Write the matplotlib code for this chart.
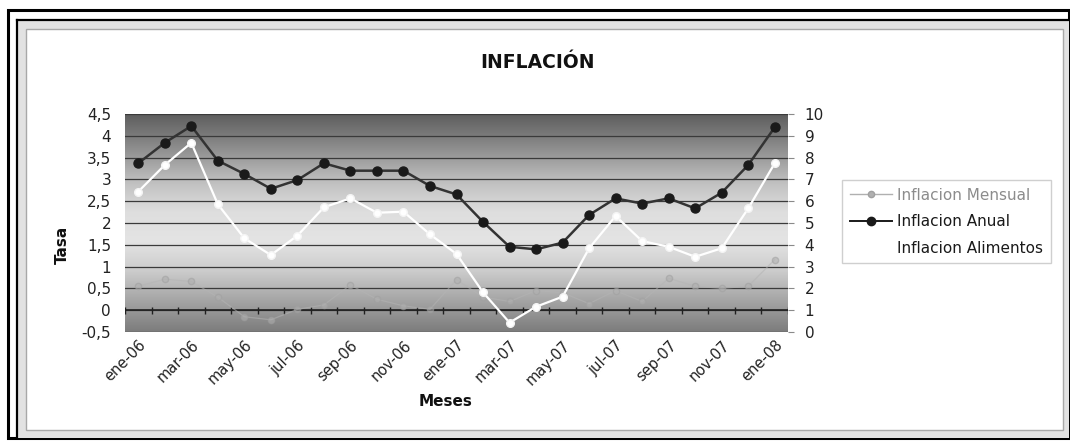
import matplotlib.pyplot as plt
import numpy as np
from matplotlib.colors import LinearSegmentedColormap
from matplotlib.patches import Rectangle
from matplotlib.lines import Line2D
from matplotlib.ticker import FuncFormatter, MultipleLocator

# monthly series, ene-06 .. ene-08
meses = ['ene-06', 'feb-06', 'mar-06', 'abr-06', 'may-06', 'jun-06', 'jul-06',
         'ago-06', 'sep-06', 'oct-06', 'nov-06', 'dic-06', 'ene-07', 'feb-07',
         'mar-07', 'abr-07', 'may-07', 'jun-07', 'jul-07', 'ago-07', 'sep-07',
         'oct-07', 'nov-07', 'dic-07', 'ene-08']
inflacion_mensual = [0.55, 0.71, 0.66, 0.30, -0.15, -0.22, 0.02, 0.12, 0.58,
                     0.25, 0.10, 0.02, 0.70, 0.30, 0.20, 0.45, 0.40, 0.15,
                     0.45, 0.20, 0.73, 0.55, 0.50, 0.55, 1.16]
inflacion_anual = [7.74, 8.68, 9.45, 7.86, 7.25, 6.57, 6.97, 7.74, 7.40, 7.40,
                   7.40, 6.70, 6.31, 5.05, 3.91, 3.79, 4.10, 5.37, 6.13, 5.89,
                   6.13, 5.67, 6.39, 7.66, 9.39]
inflacion_alimentos = [6.44, 7.66, 8.68, 5.86, 4.30, 3.53, 4.42, 5.72, 6.13,
                       5.47, 5.52, 4.48, 3.58, 1.82, 0.43, 1.16, 1.62, 3.84,
                       5.32, 4.17, 3.91, 3.45, 3.84, 5.67, 7.74]

plt.rcParams['font.family'] = ['DejaVu Sans']

W, H = 1070, 441
fig = plt.figure(figsize=(W / 100, H / 100), dpi=100)
fig.patch.set_facecolor('white')


def box(x0, y0, x1, y1, **kw):
    # rectangle given in pixel coords measured from the top-left corner
    r = Rectangle((x0 / W, 1 - y1 / H), (x1 - x0) / W, (y1 - y0) / H,
                  transform=fig.transFigure, zorder=-5, **kw)
    fig.patches.append(r)


# page frame around the chart
box(8, 10, 1069, 438, fc='none', ec='black', lw=2.2)
box(18, 20, 1069, 438, fc='#e2e2e2', ec='none')
fig.add_artist(Line2D([17 / W, 17 / W], [1 - 20 / H, 1 - 438 / H],
                      transform=fig.transFigure, color='black', lw=1.6, zorder=-4))
fig.add_artist(Line2D([17 / W, 1069 / W], [1 - 20 / H, 1 - 20 / H],
                      transform=fig.transFigure, color='black', lw=1.6, zorder=-4))
box(26, 29, 1063, 430, fc='white', ec='#a8a8a8', lw=1.0)

ax = fig.add_axes([125 / W, 1 - 332 / H, 663 / W, 218 / H])
x = np.arange(len(meses))

# vertical shading of the plot area
grad = LinearSegmentedColormap.from_list('fondo', [
    (0.0, '#5e5e5e'), (0.12, '#828282'), (0.3, '#bdbdbd'), (0.45, '#dedede'),
    (0.58, '#e4e4e4'), (0.72, '#cccccc'), (0.86, '#a4a4a4'), (1.0, '#7c7c7c')])
ax.imshow(np.linspace(0, 1, 256).reshape(-1, 1), cmap=grad, aspect='auto',
          extent=[-0.5, len(meses) - 0.5, -0.5, 4.5], zorder=0,
          interpolation='bicubic')

ax.set_xlim(-0.5, len(meses) - 0.5)
ax.set_ylim(-0.5, 4.5)
ax.yaxis.set_major_locator(MultipleLocator(0.5))
ax.yaxis.set_major_formatter(FuncFormatter(lambda v, _: f'{v:g}'.replace('.', ',')))
for v in np.arange(-0.5, 4.51, 0.5):
    ax.axhline(v, color='#3a3a3a', lw=0.9, zorder=1)

# category axis crossing at zero with tick marks between months
ax.axhline(0, color='#202020', lw=1.2, zorder=2)
ax.vlines(np.arange(-0.5, len(meses)), -0.08, 0.08, color='#202020', lw=1.0, zorder=2)

# monthly rate blends into the shading
ax.plot(x, inflacion_mensual, color='#b4b4b4', lw=0.9, marker='o', ms=4.5,
        mfc='#b0b0b0', mec='#a0a0a0', alpha=0.55, zorder=3)

for s in ax.spines.values():
    s.set_visible(False)
ax.set_xticks(x[::2])
ax.set_xticklabels(meses[::2], rotation=45, ha='right', rotation_mode='anchor',
                   fontsize=10.5, color='#222222')
ax.tick_params(axis='x', length=0, pad=4)
ax.tick_params(axis='y', length=0, pad=10, labelsize=11, labelcolor='#222222')

ax2 = ax.twinx()
ax2.set_ylim(0, 10)
ax2.yaxis.set_major_locator(MultipleLocator(1))
for s in ax2.spines.values():
    s.set_visible(False)
ax2.tick_params(axis='y', length=4, color='#8a8a8a', pad=8, labelsize=11,
                labelcolor='#222222')
ax2.plot(x, inflacion_anual, color='#333333', lw=1.8, marker='o', ms=6.5,
         mfc='#1a1a1a', mec='#1a1a1a', zorder=4)
ax2.plot(x, inflacion_alimentos, color='white', lw=1.6, marker='o', ms=5.5,
         mfc='white', mec='#f4f4f4', zorder=3)

fig.text(537 / W, 1 - 62 / H, 'INFLACIÓN', ha='center', va='center',
         fontsize=13.5, fontweight='bold', color='#111111')
fig.text(62 / W, 1 - 245 / H, 'Tasa', ha='center', va='center', rotation=90,
         fontsize=11, fontweight='bold', color='#111111')
fig.text(446 / W, 1 - 402 / H, 'Meses', ha='center', va='center',
         fontsize=11, fontweight='bold', color='#111111')

handles = [
    Line2D([], [], color='#b0b0b0', lw=1.0, marker='o', ms=4.5, mfc='#b0b0b0', mec='#a0a0a0'),
    Line2D([], [], color='#1a1a1a', lw=1.4, marker='o', ms=6, mfc='#1a1a1a'),
    Line2D([], [], color='white', lw=1.4, marker='o', ms=5.5, mfc='white', mec='white'),
]
leg = fig.legend(handles, ['Inflacion Mensual', 'Inflacion Anual', 'Inflacion Alimentos'],
                 loc='upper left', bbox_to_anchor=(842 / W, 1 - 180 / H),
                 frameon=True, fancybox=False, edgecolor='#c4c4c4', fontsize=11,
                 handlelength=2.8, handletextpad=0.3, labelspacing=0.75,
                 borderpad=0.5, borderaxespad=0)
leg.get_frame().set_linewidth(1.0)
leg.get_texts()[0].set_color('#8c8c8c')
for t in leg.get_texts()[1:]:
    t.set_color('#1a1a1a')

fig.savefig('out.png', dpi=100)
